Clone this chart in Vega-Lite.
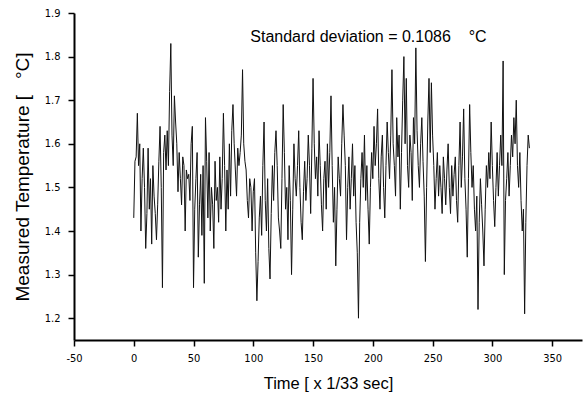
{
  "$schema": "https://vega.github.io/schema/vega-lite/v6.json",
  "width": 508,
  "height": 327,
  "autosize": "none",
  "padding": {"left": 74, "top": 13, "right": 5, "bottom": 55},
  "background": "white",
  "config": {"view": {"stroke": null}},
  "layer": [
    {
      "data": {"values": [
{"t":0,"v":1.43},{"t":1,"v":1.56},{"t":2,"v":1.57},{"t":3,"v":1.67},{"t":4,"v":1.55},{"t":5,"v":1.6},{"t":6,"v":1.4},{"t":7,"v":1.52},{"t":8,"v":1.59},{"t":9,"v":1.5},
{"t":10,"v":1.36},{"t":11,"v":1.44},{"t":12,"v":1.59},{"t":13,"v":1.45},{"t":14,"v":1.52},{"t":15,"v":1.37},{"t":16,"v":1.55},{"t":17,"v":1.48},{"t":18,"v":1.44},{"t":19,"v":1.38},
{"t":20,"v":1.46},{"t":21,"v":1.56},{"t":22,"v":1.64},{"t":23,"v":1.5},{"t":24,"v":1.27},{"t":25,"v":1.58},{"t":26,"v":1.62},{"t":27,"v":1.54},{"t":28,"v":1.63},{"t":29,"v":1.55},
{"t":30,"v":1.72},{"t":31,"v":1.83},{"t":32,"v":1.62},{"t":33,"v":1.55},{"t":34,"v":1.71},{"t":35,"v":1.65},{"t":36,"v":1.6},{"t":37,"v":1.49},{"t":38,"v":1.58},{"t":39,"v":1.52},
{"t":40,"v":1.46},{"t":41,"v":1.57},{"t":42,"v":1.55},{"t":43,"v":1.4},{"t":44,"v":1.54},{"t":45,"v":1.52},{"t":46,"v":1.53},{"t":47,"v":1.47},{"t":48,"v":1.6},{"t":49,"v":1.64},
{"t":50,"v":1.27},{"t":51,"v":1.45},{"t":52,"v":1.52},{"t":53,"v":1.58},{"t":54,"v":1.34},{"t":55,"v":1.46},{"t":56,"v":1.53},{"t":57,"v":1.39},{"t":58,"v":1.55},{"t":59,"v":1.28},
{"t":60,"v":1.66},{"t":61,"v":1.56},{"t":62,"v":1.43},{"t":63,"v":1.58},{"t":64,"v":1.4},{"t":65,"v":1.5},{"t":66,"v":1.46},{"t":67,"v":1.36},{"t":68,"v":1.56},{"t":69,"v":1.47},
{"t":70,"v":1.5},{"t":71,"v":1.42},{"t":72,"v":1.57},{"t":73,"v":1.45},{"t":74,"v":1.52},{"t":75,"v":1.67},{"t":76,"v":1.55},{"t":77,"v":1.4},{"t":78,"v":1.54},{"t":79,"v":1.45},
{"t":80,"v":1.6},{"t":81,"v":1.48},{"t":82,"v":1.63},{"t":83,"v":1.69},{"t":84,"v":1.6},{"t":85,"v":1.54},{"t":86,"v":1.48},{"t":87,"v":1.59},{"t":88,"v":1.55},{"t":89,"v":1.58},
{"t":90,"v":1.62},{"t":91,"v":1.77},{"t":92,"v":1.6},{"t":93,"v":1.56},{"t":94,"v":1.54},{"t":95,"v":1.47},{"t":96,"v":1.43},{"t":97,"v":1.52},{"t":98,"v":1.5},{"t":99,"v":1.4},
{"t":100,"v":1.49},{"t":101,"v":1.52},{"t":102,"v":1.35},{"t":103,"v":1.24},{"t":104,"v":1.33},{"t":105,"v":1.43},{"t":106,"v":1.48},{"t":107,"v":1.39},{"t":108,"v":1.55},{"t":109,"v":1.65},
{"t":110,"v":1.47},{"t":111,"v":1.4},{"t":112,"v":1.52},{"t":113,"v":1.36},{"t":114,"v":1.29},{"t":115,"v":1.44},{"t":116,"v":1.55},{"t":117,"v":1.47},{"t":118,"v":1.58},{"t":119,"v":1.63},
{"t":120,"v":1.55},{"t":121,"v":1.43},{"t":122,"v":1.4},{"t":123,"v":1.36},{"t":124,"v":1.52},{"t":125,"v":1.69},{"t":126,"v":1.58},{"t":127,"v":1.45},{"t":128,"v":1.5},{"t":129,"v":1.38},
{"t":130,"v":1.55},{"t":131,"v":1.47},{"t":132,"v":1.3},{"t":133,"v":1.45},{"t":134,"v":1.6},{"t":135,"v":1.52},{"t":136,"v":1.48},{"t":137,"v":1.55},{"t":138,"v":1.63},{"t":139,"v":1.5},
{"t":140,"v":1.42},{"t":141,"v":1.38},{"t":142,"v":1.49},{"t":143,"v":1.56},{"t":144,"v":1.47},{"t":145,"v":1.52},{"t":146,"v":1.62},{"t":147,"v":1.55},{"t":148,"v":1.44},{"t":149,"v":1.59},
{"t":150,"v":1.75},{"t":151,"v":1.6},{"t":152,"v":1.52},{"t":153,"v":1.57},{"t":154,"v":1.48},{"t":155,"v":1.63},{"t":156,"v":1.55},{"t":157,"v":1.46},{"t":158,"v":1.4},{"t":159,"v":1.52},
{"t":160,"v":1.56},{"t":161,"v":1.45},{"t":162,"v":1.6},{"t":163,"v":1.5},{"t":164,"v":1.58},{"t":165,"v":1.71},{"t":166,"v":1.55},{"t":167,"v":1.42},{"t":168,"v":1.5},{"t":169,"v":1.32},
{"t":170,"v":1.45},{"t":171,"v":1.57},{"t":172,"v":1.52},{"t":173,"v":1.48},{"t":174,"v":1.6},{"t":175,"v":1.69},{"t":176,"v":1.62},{"t":177,"v":1.55},{"t":178,"v":1.38},{"t":179,"v":1.5},
{"t":180,"v":1.57},{"t":181,"v":1.45},{"t":182,"v":1.52},{"t":183,"v":1.6},{"t":184,"v":1.48},{"t":185,"v":1.55},{"t":186,"v":1.42},{"t":187,"v":1.35},{"t":188,"v":1.2},{"t":189,"v":1.42},
{"t":190,"v":1.52},{"t":191,"v":1.58},{"t":192,"v":1.5},{"t":193,"v":1.62},{"t":194,"v":1.47},{"t":195,"v":1.55},{"t":196,"v":1.45},{"t":197,"v":1.37},{"t":198,"v":1.5},{"t":199,"v":1.58},
{"t":200,"v":1.52},{"t":201,"v":1.64},{"t":202,"v":1.55},{"t":203,"v":1.6},{"t":204,"v":1.68},{"t":205,"v":1.52},{"t":206,"v":1.45},{"t":207,"v":1.57},{"t":208,"v":1.62},{"t":209,"v":1.5},
{"t":210,"v":1.43},{"t":211,"v":1.55},{"t":212,"v":1.65},{"t":213,"v":1.58},{"t":214,"v":1.52},{"t":215,"v":1.62},{"t":216,"v":1.77},{"t":217,"v":1.6},{"t":218,"v":1.55},{"t":219,"v":1.48},
{"t":220,"v":1.66},{"t":221,"v":1.57},{"t":222,"v":1.62},{"t":223,"v":1.45},{"t":224,"v":1.58},{"t":225,"v":1.7},{"t":226,"v":1.8},{"t":227,"v":1.6},{"t":228,"v":1.75},{"t":229,"v":1.55},
{"t":230,"v":1.5},{"t":231,"v":1.62},{"t":232,"v":1.58},{"t":233,"v":1.47},{"t":234,"v":1.66},{"t":235,"v":1.6},{"t":236,"v":1.82},{"t":237,"v":1.63},{"t":238,"v":1.55},{"t":239,"v":1.5},
{"t":240,"v":1.6},{"t":241,"v":1.66},{"t":242,"v":1.56},{"t":243,"v":1.48},{"t":244,"v":1.33},{"t":245,"v":1.5},{"t":246,"v":1.65},{"t":247,"v":1.75},{"t":248,"v":1.58},{"t":249,"v":1.74},
{"t":250,"v":1.62},{"t":251,"v":1.55},{"t":252,"v":1.45},{"t":253,"v":1.52},{"t":254,"v":1.58},{"t":255,"v":1.48},{"t":256,"v":1.55},{"t":257,"v":1.5},{"t":258,"v":1.44},{"t":259,"v":1.57},
{"t":260,"v":1.52},{"t":261,"v":1.46},{"t":262,"v":1.54},{"t":263,"v":1.6},{"t":264,"v":1.5},{"t":265,"v":1.44},{"t":266,"v":1.55},{"t":267,"v":1.48},{"t":268,"v":1.53},{"t":269,"v":1.57},
{"t":270,"v":1.47},{"t":271,"v":1.42},{"t":272,"v":1.55},{"t":273,"v":1.65},{"t":274,"v":1.5},{"t":275,"v":1.57},{"t":276,"v":1.68},{"t":277,"v":1.52},{"t":278,"v":1.45},{"t":279,"v":1.34},
{"t":280,"v":1.52},{"t":281,"v":1.69},{"t":282,"v":1.58},{"t":283,"v":1.5},{"t":284,"v":1.55},{"t":285,"v":1.45},{"t":286,"v":1.4},{"t":287,"v":1.48},{"t":288,"v":1.22},{"t":289,"v":1.42},
{"t":290,"v":1.52},{"t":291,"v":1.46},{"t":292,"v":1.4},{"t":293,"v":1.32},{"t":294,"v":1.45},{"t":295,"v":1.55},{"t":296,"v":1.5},{"t":297,"v":1.58},{"t":298,"v":1.52},{"t":299,"v":1.65},
{"t":300,"v":1.55},{"t":301,"v":1.47},{"t":302,"v":1.41},{"t":303,"v":1.5},{"t":304,"v":1.58},{"t":305,"v":1.48},{"t":306,"v":1.55},{"t":307,"v":1.62},{"t":308,"v":1.55},{"t":309,"v":1.79},
{"t":310,"v":1.3},{"t":311,"v":1.47},{"t":312,"v":1.52},{"t":313,"v":1.58},{"t":314,"v":1.48},{"t":315,"v":1.55},{"t":316,"v":1.62},{"t":317,"v":1.57},{"t":318,"v":1.66},{"t":319,"v":1.6},
{"t":320,"v":1.7},{"t":321,"v":1.55},{"t":322,"v":1.5},{"t":323,"v":1.58},{"t":324,"v":1.47},{"t":325,"v":1.4},{"t":326,"v":1.45},{"t":327,"v":1.21},{"t":328,"v":1.42},{"t":329,"v":1.55},
{"t":330,"v":1.62},{"t":331,"v":1.59}
      ]},
      "mark": {"type": "line", "color": "#111111", "strokeWidth": 1, "clip": true},
      "encoding": {
        "x": {
          "field": "t", "type": "quantitative",
          "scale": {"domain": [-50, 375], "nice": false, "zero": false},
          "axis": {
            "title": "Time [ x 1/33 sec]",
            "titleFont": "Liberation Sans", "titleFontSize": 16.5, "titleFontWeight": "normal", "titleColor": "#000", "titlePadding": 12,
            "values": [-50, 0, 50, 100, 150, 200, 250, 300, 350],
            "labelExpr": "'' + datum.value",
            "labelFont": "Liberation Sans Narrow, DejaVu Sans Condensed, sans-serif", "labelFontSize": 11, "labelColor": "#000",
            "labelPadding": 6,
            "tickSize": 6,
            "tickColor": "#000", "tickWidth": 1.5,
            "domainColor": "#000", "domainWidth": 2,
            "grid": false, "labelFlush": false, "labelOverlap": false
          }
        },
        "y": {
          "field": "v", "type": "quantitative",
          "scale": {"domain": [1.15, 1.9], "nice": false, "zero": false},
          "axis": {
            "title": "Measured Temperature [\u00a0\u00a0\u00a0°C]\u00a0\u00a0\u00a0\u00a0\u00a0\u00a0",
            "titleFont": "Liberation Sans", "titleFontSize": 19, "titleFontWeight": "normal", "titleColor": "#000", "titlePadding": 12,
            "values": [1.2, 1.3, 1.4, 1.5, 1.6, 1.7, 1.8, 1.9],
            "format": ".1f",
            "labelFont": "Liberation Sans Narrow, DejaVu Sans Condensed, sans-serif", "labelFontSize": 11, "labelColor": "#000",
            "labelPadding": 8,
            "tickSize": 6,
            "tickColor": "#000", "tickWidth": 1.5,
            "domainColor": "#000", "domainWidth": 2,
            "grid": false, "labelOverlap": false, "labelFlush": false
          }
        }
      }
    },
    {
      "mark": {"type": "rule", "color": "#000", "strokeWidth": 2},
      "encoding": {"x": {"datum": -50, "type": "quantitative"}}
    },
    {
      "mark": {"type": "rule", "color": "#000", "strokeWidth": 2},
      "encoding": {"y": {"datum": 1.15, "type": "quantitative"}}
    },
    {
      "data": {"values": [{"t": 97.5, "v": 1.845, "label": "Standard deviation = 0.1086\u00a0\u00a0\u00a0\u00a0°C"}]},
      "mark": {"type": "text", "font": "Liberation Sans", "fontSize": 16, "color": "#000", "align": "left", "baseline": "middle"},
      "encoding": {
        "x": {"field": "t", "type": "quantitative"},
        "y": {"field": "v", "type": "quantitative"},
        "text": {"field": "label"}
      }
    }
  ]
}
